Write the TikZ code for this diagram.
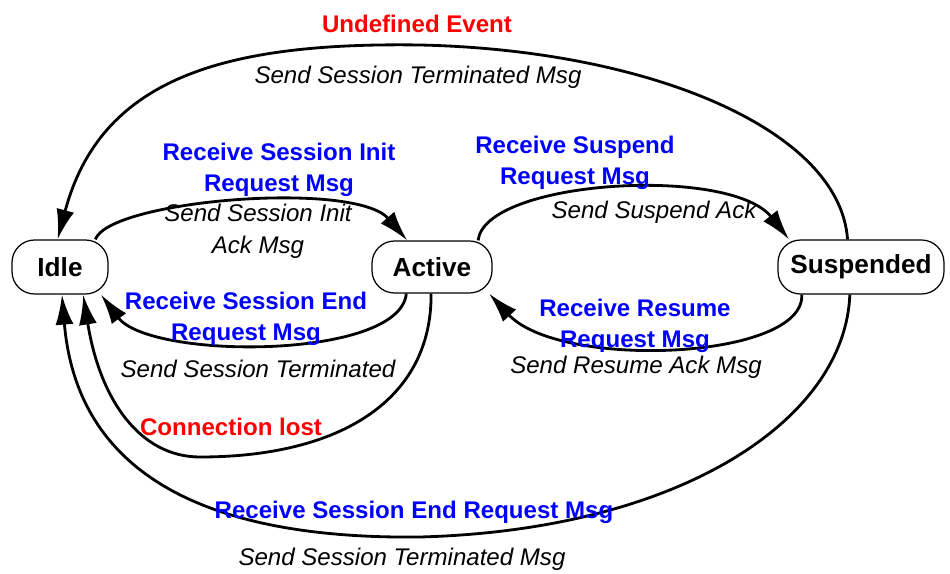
\documentclass[tikz,border=0pt]{standalone}
\usepackage{fontspec}
\setmainfont{Liberation Sans}
\usetikzlibrary{arrows.meta}

\begin{document}
\begin{tikzpicture}[
    x=0.02cm, y=-0.02cm,
    state/.style={rectangle, draw=black, line width=0.7pt, rounded corners=0.45cm, inner sep=0pt, minimum height=1.08cm, font=\fontsize{14.9}{18}\selectfont\bfseries},
    trans/.style={-{Latex[length=0.6cm,width=0.36cm]}, line width=1.6pt},
    rx/.style={align=center, text=blue, font=\fontsize{13.7}{18}\selectfont\bfseries},
    tx/.style={align=center, font=\fontsize{13.7}{18}\selectfont\itshape},
    err/.style={text=red, font=\fontsize{13.7}{18}\selectfont\bfseries},
]

\useasboundingbox (0,0) rectangle (950,574);

\node (idle) [state, minimum width=1.92cm] at (60,267) {Idle};

\node (active) [state, minimum width=2.4cm, minimum height=1.04cm] at (432,267) {Active};

\node (suspended) [state, minimum width=3.32cm] at (861,267) {Suspended};

\draw [trans] (idle.38) .. controls (110,200) and (355,180) .. (active.133);
\draw [trans] (active.226) .. controls (400,360) and (150,360) .. (idle.326);
\draw [trans] (active.268) .. controls (432,400) and (340,457) .. (200,457) .. controls (140,457) and (100,400) .. (idle.310);
\draw [trans] (suspended.248) .. controls (845,420) and (680,530) .. (420,537) .. controls (170,540) and (75,450) .. (idle.274);
\draw [trans] (suspended.116) .. controls (840,130) and (650,50) .. (420,45) .. controls (220,42) and (100,80) .. (idle.95);
\draw [trans] (active.30) .. controls (485,180) and (730,165) .. (suspended.159);
\draw [trans] (suspended.205) .. controls (805,360) and (560,370) .. (active.335);

\node (undef) [err] at (417,24) {Undefined Event};
\node (txundef) [tx] at (418,77) {Send Session Terminated Msg};

\node (rxinit) [rx] at (279,170) {Receive Session Init\\Request Msg};
\node (txinit) [tx] at (258,231) {Send Session Init\\Ack Msg};

\node (rxend) [rx] at (246,319) {Receive Session End\\Request Msg};
\node (txend) [tx] at (258,369) {Send Session Terminated};

\node (lost) [err] at (231,427) {Connection lost};

\node (rxsuspend) [rx] at (575,163) {Receive Suspend\\Request Msg};
\node (txsuspend) [tx] at (654,212) {Send Suspend Ack};

\node (rxresume) [rx] at (635,326) {Receive Resume\\Request Msg};
\node (txresume) [tx] at (636,367) {Send Resume Ack Msg};

\node (rxbye) [rx] at (414,512) {Receive Session End Request Msg};
\node (txbye) [tx] at (402,559) {Send Session Terminated Msg};

\end{tikzpicture}
\end{document}
